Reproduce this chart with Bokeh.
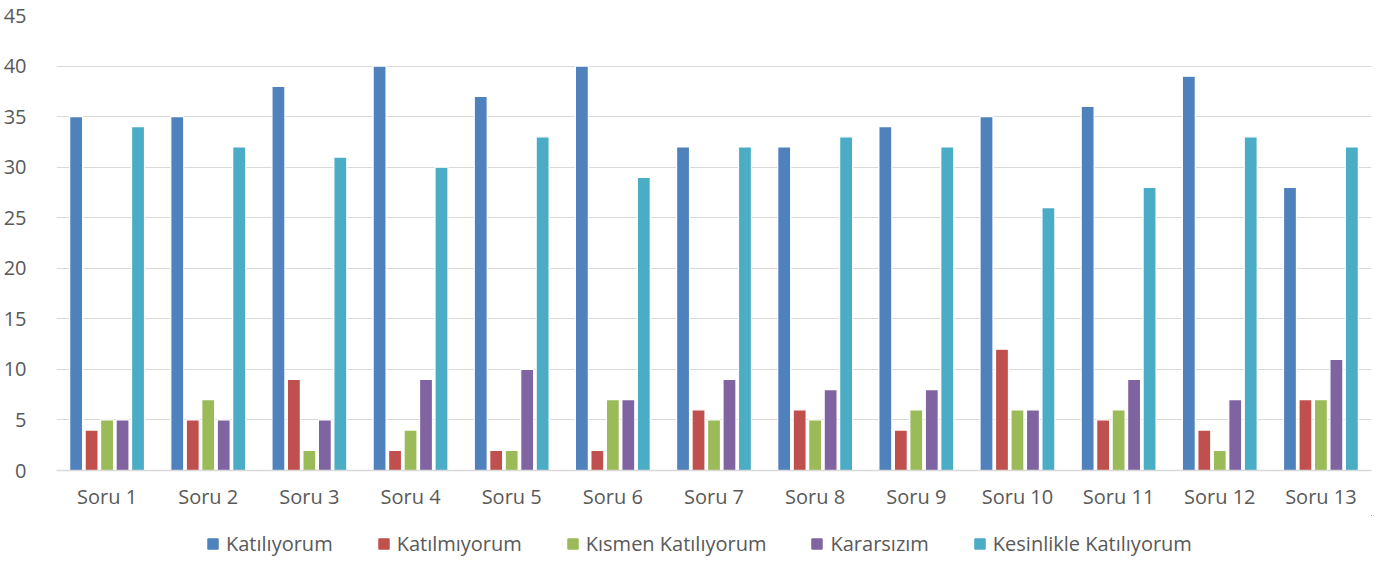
from bokeh.plotting import figure
from bokeh.models import ColumnDataSource, Legend, LegendItem, FactorRange
from bokeh.layouts import column
from bokeh.transform import dodge
from bokeh.embed import file_html
from bokeh.resources import INLINE

categories = ["Soru 1", "Soru 2", "Soru 3", "Soru 4", "Soru 5", "Soru 6", "Soru 7",
              "Soru 8", "Soru 9", "Soru 10", "Soru 11", "Soru 12", "Soru 13"]
katiliyorum = [35, 35, 38, 40, 37, 40, 32, 32, 34, 35, 36, 39, 28]
katilmiyorum = [4, 5, 9, 2, 2, 2, 6, 6, 4, 12, 5, 4, 7]
kismen = [5, 7, 2, 4, 2, 7, 5, 5, 6, 6, 6, 2, 7]
kararsizim = [5, 5, 5, 9, 10, 7, 9, 8, 8, 6, 9, 7, 11]
kesinlikle = [34, 32, 31, 30, 33, 29, 32, 33, 32, 26, 28, 33, 32]

series_names = ["Katılıyorum", "Katılmıyorum", "Kısmen Katılıyorum", "Kararsızım", "Kesinlikle Katılıyorum"]
series_keys = ["s0", "s1", "s2", "s3", "s4"]
colors = ["#4F81BD", "#C0504D", "#9BBB59", "#8064A2", "#4BACC6"]

source = ColumnDataSource(dict(cat=categories, s0=katiliyorum, s1=katilmiyorum,
                               s2=kismen, s3=kararsizim, s4=kesinlikle))

FONT = "Open Sans"
TXT = "#595959"

p = figure(x_range=FactorRange(*categories, range_padding=0), y_range=(0, 45),
           width=1384, height=515, output_backend="svg", toolbar_location=None,
           min_border_left=55, min_border_right=13, min_border_top=15, min_border_bottom=45)

step = 0.153
for i, (k, c) in enumerate(zip(series_keys, colors)):
    p.vbar(x=dodge("cat", (i - 2) * step, range=p.x_range), top=k, width=0.128,
           source=source, fill_color=c, line_color="white", line_width=1.2)

p.outline_line_color = None
p.xgrid.grid_line_color = None
p.ygrid.grid_line_color = "#D9D9D9"
p.ygrid.grid_line_width = 1

p.yaxis.ticker = list(range(0, 46, 5))
p.yaxis.axis_line_color = None
p.yaxis.major_tick_line_color = None
p.yaxis.minor_tick_line_color = None
p.yaxis.major_label_text_font = FONT
p.yaxis.major_label_text_font_size = "20px"
p.yaxis.major_label_text_color = TXT
p.yaxis.major_label_standoff = 24

p.xaxis.axis_line_color = "#D9D9D9"
p.xaxis.axis_line_width = 1.5
p.xaxis.major_tick_line_color = None
p.xaxis.minor_tick_line_color = None
p.xaxis.major_label_text_font = FONT
p.xaxis.major_label_text_font_size = "20px"
p.xaxis.major_label_text_color = TXT
p.xaxis.major_label_standoff = 6

# legend strip (marker renderers sit outside the visible range)
p2 = figure(width=1384, height=47, output_backend="svg", toolbar_location=None,
            x_axis_type=None, y_axis_type=None, min_border=0,
            x_range=(0, 1), y_range=(0, 1))
p2.outline_line_color = None
p2.grid.grid_line_color = None
items = []
for name, c in zip(series_names, colors):
    r = p2.vbar(x=[5], top=[5], bottom=[4], width=0.1, fill_color=c, line_color=c, line_width=1)
    items.append(LegendItem(label=name, renderers=[r]))

legend = Legend(items=items, orientation="horizontal", location=(150, 5),
                label_text_font=FONT, label_text_font_size="20px", label_text_color=TXT,
                glyph_width=13, glyph_height=13, spacing=44, label_standoff=7,
                label_height=20, border_line_color=None, background_fill_alpha=0,
                padding=0, margin=0)
p2.add_layout(legend, "center")

layout = column(p, p2, spacing=0)
open("out.html", "w").write(file_html(layout, INLINE))
